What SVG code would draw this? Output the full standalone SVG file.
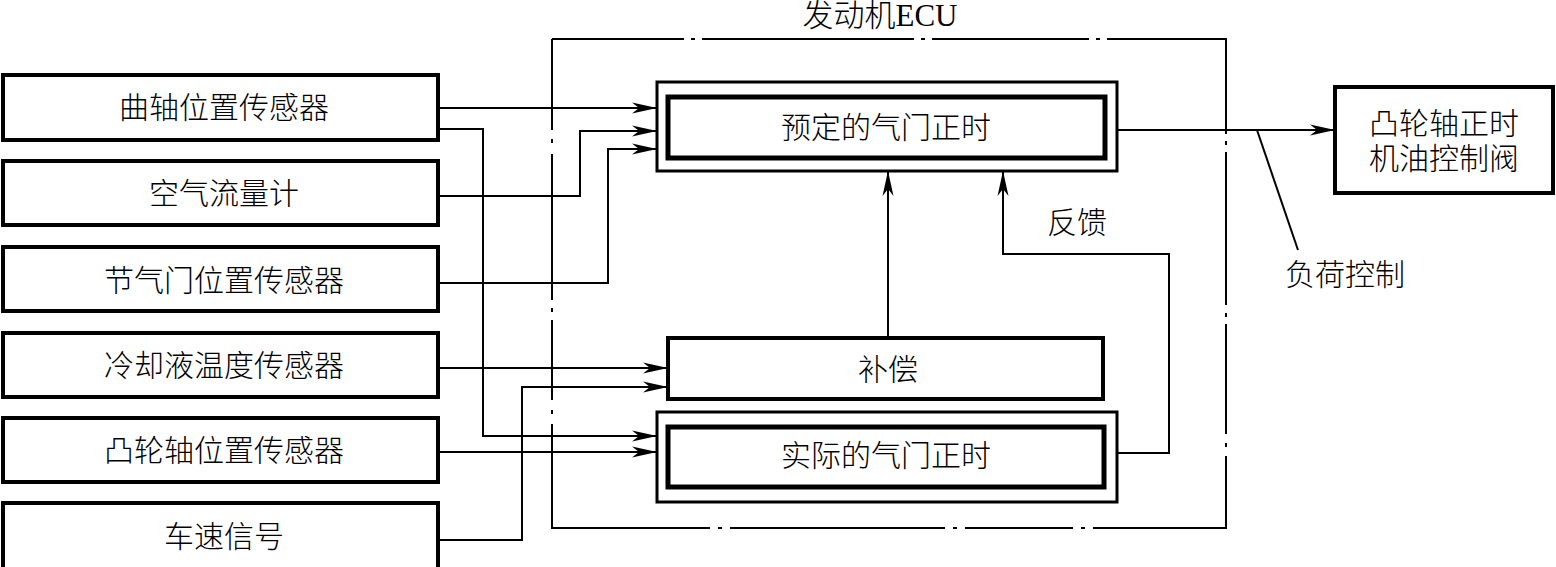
<svg xmlns="http://www.w3.org/2000/svg" width="1556" height="567" viewBox="0 0 1556 567">
<style>
.t{font-family:"Liberation Serif","Noto Sans CJK SC",serif;font-size:30px;font-weight:300;fill:#000;text-anchor:middle;dominant-baseline:central}
.box{fill:#fff;stroke:#000;stroke-width:4}
.thin{fill:none;stroke:#000;stroke-width:3}
.thick{fill:none;stroke:#000;stroke-width:5}
.c{fill:none;stroke:#000;stroke-width:2}
.e{fill:none;stroke:#000;stroke-width:2}
</style>
<defs>
<marker id="a" markerUnits="userSpaceOnUse" markerWidth="28" markerHeight="14" viewBox="-26 -7 28 14" refX="0" refY="0" orient="auto">
<path d="M0,0 L-25,-5.5 L-18,0 L-25,5.5 Z" fill="#000"/>
</marker>
</defs>
<rect width="1556" height="567" fill="#fff"/>
<g id="ecu">
<path class="e" d="M552,39 H684 M691,39 H695 M702,39 H914 M921,39 H925 M932,39 H1089 M1096,39 H1100 M1107,39 H1226 V134 M1226,141 V145 M1226,152 V305 M1226,313 V317 M1226,324 V434 M1226,443 V447 M1226,456 V528 H1093 M1085,528 H1081 M1073,528 H965 M957,528 H953 M945,528 H730 M722,528 H718 M710,528 H552 V424 M552,414 V410 M552,400 V320 M552,312 V308 M552,300 V154 M552,143 V139 M552,130 V39"/>
<text class="t" x="880" y="15" style="font-size:31px">发动机ECU</text>
</g>
<g id="connectors">
<polyline class="c" points="438,108 657,108" marker-end="url(#a)"/>
<polyline class="c" points="438,129 483,129 483,436 657,436" marker-end="url(#a)"/>
<polyline class="c" points="438,196 580,196 580,131 657,131" marker-end="url(#a)"/>
<polyline class="c" points="438,283 608,283 608,149 657,149" marker-end="url(#a)"/>
<polyline class="c" points="438,368 668,368" marker-end="url(#a)"/>
<polyline class="c" points="438,540 522,540 522,387 668,387" marker-end="url(#a)"/>
<polyline class="c" points="438,452 657,452" marker-end="url(#a)"/>
<polyline class="c" points="888,338 888,171" marker-end="url(#a)"/>
<polyline class="c" points="1117,453 1169,453 1169,254 1003,254 1003,171" marker-end="url(#a)"/>
<polyline class="c" points="1117,130 1335,130" marker-end="url(#a)"/>
<line class="c" x1="1257" y1="130" x2="1298" y2="250"/>
<text class="t" x="1077" y="222">反馈</text>
<text class="t" x="1345" y="274">负荷控制</text>
</g>
<g id="n1"><rect class="box" x="3" y="75" width="435" height="65"/><text class="t" x="224" y="107">曲轴位置传感器</text></g>
<g id="n2"><rect class="box" x="3" y="161" width="435" height="64"/><text class="t" x="224" y="193">空气流量计</text></g>
<g id="n3"><rect class="box" x="3" y="247" width="435" height="64"/><text class="t" x="224" y="280">节气门位置传感器</text></g>
<g id="n4"><rect class="box" x="3" y="333" width="435" height="64"/><text class="t" x="224" y="365">冷却液温度传感器</text></g>
<g id="n5"><rect class="box" x="3" y="418" width="435" height="64"/><text class="t" x="224" y="450">凸轮轴位置传感器</text></g>
<g id="n6"><rect class="box" x="3" y="503" width="435" height="66"/><text class="t" x="224" y="536">车速信号</text></g>
<g id="preset">
<rect class="thin" x="657" y="82" width="460" height="89"/>
<rect class="thick" x="668" y="97" width="437" height="61"/>
<text class="t" x="886" y="127">预定的气门正时</text>
</g>
<g id="comp">
<rect class="box" x="668" y="338" width="435" height="61" stroke-width="3.5"/>
<text class="t" x="888" y="369">补偿</text>
</g>
<g id="actual">
<rect class="thin" x="657" y="412" width="460" height="90"/>
<rect class="thick" x="668" y="427" width="436" height="60"/>
<text class="t" x="886" y="455">实际的气门正时</text>
</g>
<g id="ocv">
<rect class="box" x="1335" y="87" width="218" height="106" stroke-width="3.5"/>
<text class="t" x="1444" y="123">凸轮轴正时</text>
<text class="t" x="1444" y="158">机油控制阀</text>
</g>
</svg>
